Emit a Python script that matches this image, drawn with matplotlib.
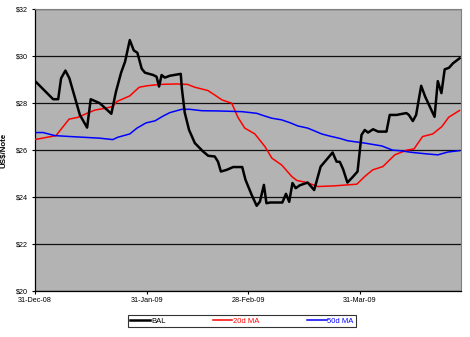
import matplotlib
matplotlib.use("Agg")
import matplotlib.pyplot as plt

plt.rcParams['font.family'] = ['Liberation Sans', 'DejaVu Sans']

# days after 31-Dec-08, values in US$ per note
bal_days = [0, 5.1, 6.5, 7.3, 8.5, 9.6, 12.5, 14.5, 15.5, 18.0, 21.2, 22.5, 23.9,
            25.0, 26.3, 27.4, 28.4, 29.6, 30.5, 32.8, 33.7, 34.4, 35.1, 36.0, 37.4,
            40.4, 40.7, 41.5, 42.7, 44.3, 46.6, 48.0, 49.8, 50.7, 51.5, 53.1, 54.9,
            57.4, 58.3, 60.0, 61.4, 62.3, 63.4, 64.1, 65.2, 68.5, 69.5, 70.4, 71.3,
            72.2, 73.3, 75.5, 77.3, 79.1, 80.7, 82.4, 83.5, 84.4, 85.3, 86.5, 88.1,
            89.3, 90.4, 91.3, 92.2, 93.6, 95.0, 97.3, 98.2, 100.1, 102.8, 103.5,
            104.6, 105.5, 106.9, 108.0, 110.6, 111.5, 112.5, 113.4, 114.6, 115.7, 117.5]
bal_vals = [28.96, 28.17, 28.17, 29.06, 29.39, 29.06, 27.5, 26.96, 28.17, 28.0, 27.55,
            28.5, 29.3, 29.77, 30.69, 30.25, 30.15, 29.47, 29.30, 29.2, 29.13, 28.71,
            29.2, 29.09, 29.17, 29.25, 28.64, 27.6, 26.86, 26.30, 25.94, 25.76, 25.73,
            25.51, 25.09, 25.16, 25.28, 25.28, 24.74, 24.1, 23.63, 23.81, 24.52, 23.74,
            23.77, 23.77, 24.14, 23.8, 24.6, 24.38, 24.5, 24.62, 24.3, 25.3, 25.59,
            25.9, 25.51, 25.5, 25.19, 24.62, 24.88, 25.09, 26.65, 26.86, 26.75, 26.89,
            26.79, 26.79, 27.5, 27.5, 27.58, 27.5, 27.24, 27.5, 28.74, 28.28, 27.42,
            28.94, 28.43, 29.44, 29.51, 29.70, 29.91]

ma20_days = [0, 5.9, 9.5, 12.0, 14.5, 16.7, 19.4, 21.6, 22.7, 26.3, 28.9, 31.0, 34.6,
             39.3, 42.3, 44.3, 47.9, 49.8, 51.8, 54.5, 56.2, 58.1, 60.9, 63.7, 65.6,
             68.3, 71.1, 72.5, 75.3, 78.3, 83.0, 89.1, 91.3, 93.5, 96.3, 99.6, 102.9,
             104.9, 107.3, 110.1, 112.6, 114.5, 117.5]
ma20_vals = [26.45, 26.62, 27.32, 27.40, 27.57, 27.71, 27.78, 27.86, 28.07, 28.31,
             28.68, 28.74, 28.80, 28.82, 28.80, 28.68, 28.54, 28.35, 28.14, 28.0, 27.4,
             26.94, 26.69, 26.15, 25.66, 25.37, 24.88, 24.71, 24.62, 24.45, 24.48,
             24.55, 24.88, 25.16, 25.30, 25.80, 26.0, 26.05, 26.58, 26.69, 27.0, 27.40,
             27.69]

ma50_days = [0, 2.3, 5.6, 9.8, 14.5, 18.0, 21.6, 23.0, 26.3, 28.3, 30.8, 33.3, 35.5,
             37.4, 40.7, 42.9, 46.2, 50.7, 57.3, 61.4, 63.7, 65.6, 68.3, 70.6, 72.8,
             75.5, 79.4, 81.6, 84.4, 86.6, 91.3, 96.0, 99.0, 100.9, 104.6, 108.5,
             111.5, 114.3, 117.5]
ma50_vals = [26.75, 26.75, 26.62, 26.58, 26.54, 26.51, 26.45, 26.55, 26.69, 26.94,
             27.16, 27.25, 27.45, 27.60, 27.74, 27.74, 27.68, 27.67, 27.64, 27.57,
             27.45, 27.36, 27.29, 27.17, 27.03, 26.94, 26.69, 26.60, 26.50, 26.40,
             26.30, 26.18, 26.0, 25.98, 25.90, 25.84, 25.80, 25.92, 25.98]

tick_days = [0, 31, 59, 90]
tick_labels = ['31-Dec-08', '31-Jan-09', '28-Feb-09', '31-Mar-09']
y_ticks = [20, 22, 24, 26, 28, 30, 32]

fig = plt.figure(figsize=(4.7, 3.37), dpi=100)
ax = fig.add_axes([0.0738, 0.1365, 0.9077, 0.8359])
ax.set_facecolor('#b3b3b3')

ax.plot(bal_days, bal_vals, color='black', lw=1.8, label='BAL', zorder=4,
        solid_joinstyle='round')
ax.plot(ma20_days, ma20_vals, color='#ff0000', lw=1.1, label='20d MA', zorder=3)
ax.plot(ma50_days, ma50_vals, color='#0000ff', lw=1.1, label='50d MA', zorder=3)

ax.set_xlim(0, 118)
ax.set_ylim(20, 32)
ax.set_yticks(y_ticks)
ax.set_yticklabels(['$%d' % v for v in y_ticks])
ax.set_xticks(tick_days)
ax.set_xticklabels(tick_labels)
ax.tick_params(labelsize=5.2, length=2.5, width=0.8, pad=2, colors='black')
ax.grid(axis='y', color='#101010', lw=0.9)
ax.set_axisbelow(True)

for s in ['top', 'right']:
    ax.spines[s].set_color('#808080')
for s in ['left', 'bottom']:
    ax.spines[s].set_color('black')
    ax.spines[s].set_linewidth(0.9)

ax.set_ylabel('US$/Note', fontsize=5.7, fontweight='bold', labelpad=6)

leg = fig.legend(loc='lower left', bbox_to_anchor=(128 / 470, 1 - 327 / 337, 228 / 470, 14 / 337),
                 mode='expand', ncol=3, fontsize=5.5, frameon=True, fancybox=False,
                 handlelength=2.6, handletextpad=0.1, borderpad=0.3, borderaxespad=0)
leg.get_frame().set_edgecolor('black')
leg.get_frame().set_linewidth(0.8)
for txt, line in zip(leg.get_texts(), leg.get_lines()):
    txt.set_color(line.get_color())

fig.savefig('out.png', dpi=100)
